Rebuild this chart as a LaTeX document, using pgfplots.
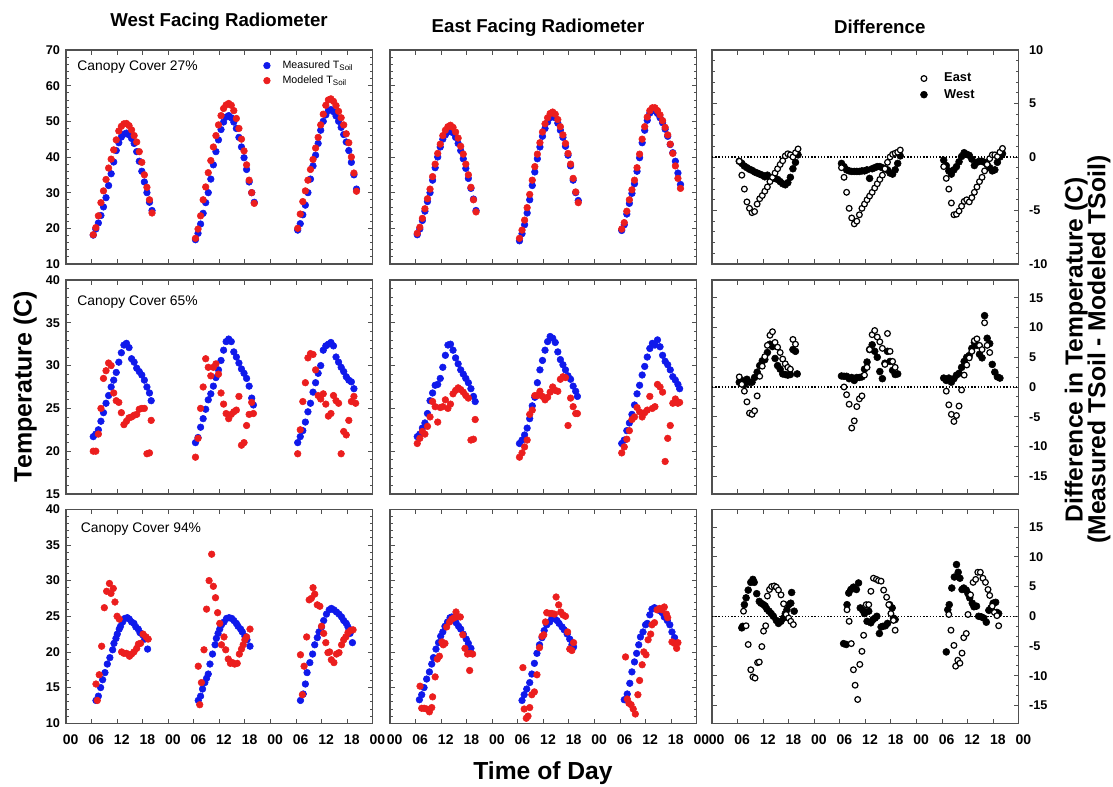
\documentclass[border=0pt]{standalone}
\usepackage{fontspec}
\setmainfont{Liberation Sans}
\usepackage{pgfplots}
\usepackage{pgfplotstable}
\pgfplotsset{compat=1.18}
\definecolor{mblue}{RGB}{15,25,235}
\definecolor{mred}{RGB}{235,30,30}
\definecolor{axgray}{RGB}{80,80,80}

\pgfplotstableread[row sep=\\]{
t wm wr em er de dw\\
6.4 18.1 18.2 18.2 18.6 -0.4 -0.4\\
7.0 19.8 20.2 19.8 20.3 -1.7 -0.6\\
7.6 21.5 23.5 22.2 22.8 -3.0 -0.85\\
8.2 23.6 27.2 24.8 25.5 -4.2 -1.0\\
8.8 26.0 30.5 27.5 28.3 -4.8 -1.15\\
9.4 28.6 33.7 30.0 31.0 -5.2 -1.25\\
10.0 32.0 36.9 33.5 34.5 -5.1 -1.4\\
10.6 35.3 39.4 37.0 38.0 -4.4 -1.5\\
11.2 38.6 42.0 40.0 41.0 -3.9 -1.6\\
11.8 41.8 44.8 42.8 43.6 -3.6 -1.7\\
12.4 44.0 47.3 45.0 46.0 -3.2 -1.85\\
13.0 45.6 48.6 46.2 47.5 -2.8 -1.7\\
13.6 46.4 49.3 47.0 48.5 -2.3 -1.9\\
14.2 46.7 49.4 47.3 48.9 -1.9 -2.0\\
14.8 46.2 48.8 46.8 48.3 -1.5 -2.0\\
15.4 45.2 47.6 45.5 47.0 -1.1 -2.1\\
16.0 43.8 46.0 43.8 45.3 -0.7 -2.3\\
16.6 41.5 44.2 41.8 43.0 -0.35 -2.5\\
17.2 38.8 41.5 39.5 40.8 0.1 -2.6\\
17.8 36.0 38.5 36.8 38.0 0.3 -2.4\\
18.4 33.0 35.0 34.0 35.0 0.2 -1.9\\
19.0 30.0 31.5 31.2 31.5 0.0 -1.1\\
19.6 27.3 28.0 28.2 28.0 0.4 -0.5\\
20.2 25.0 24.3 25.0 24.6 0.75 0.2\\
30.4 16.8 17.2 16.5 17.2 -1.0 -0.6\\
31.0 18.6 19.8 18.5 19.5 -1.9 -0.9\\
31.6 21.2 23.5 21.0 22.3 -3.3 -1.2\\
32.2 24.2 28.0 24.3 25.8 -4.8 -1.3\\
32.8 27.2 31.6 28.0 29.5 -5.7 -1.35\\
33.4 30.0 35.6 32.0 33.5 -6.25 -1.35\\
34.0 33.8 39.0 35.8 37.3 -6.0 -1.35\\
34.6 37.8 42.8 39.5 40.8 -5.4 -1.35\\
35.2 41.5 46.0 42.8 44.0 -4.8 -1.3\\
35.8 44.8 49.0 45.8 47.0 -4.4 -1.3\\
36.4 47.7 51.6 48.0 49.3 -4.0 -1.2\\
37.0 49.8 53.6 49.8 51.0 -3.65 -2.0\\
37.6 51.2 54.6 51.0 52.2 -3.3 -1.1\\
38.2 51.6 55.0 51.6 52.6 -2.9 -1.0\\
38.8 51.0 54.5 51.0 52.0 -2.5 -0.9\\
39.4 49.8 53.0 49.5 50.5 -2.1 -0.9\\
40.0 48.0 50.8 47.5 48.5 -1.7 -1.0\\
40.6 45.5 48.0 45.5 46.2 -1.1 -1.1\\
41.2 42.8 45.0 43.0 43.8 -0.5 -1.2\\
41.8 39.8 41.7 40.5 41.0 0.0 -1.5\\
42.4 36.5 37.8 37.5 38.0 0.25 -1.6\\
43.0 33.0 33.5 33.5 34.0 0.35 -1.2\\
43.6 30.0 30.0 30.0 30.2 0.45 -0.6\\
44.2 27.3 27.0 27.8 27.2 0.65 0.1\\
54.4 19.5 20.0 19.4 19.8 -0.9 -0.3\\
55.0 21.3 24.0 21.0 21.6 -2.0 -0.8\\
55.6 23.8 27.5 24.0 24.8 -3.0 -1.3\\
56.2 26.5 30.5 27.0 28.0 -4.3 -1.6\\
56.8 30.0 33.5 29.8 30.8 -5.4 -1.2\\
57.4 33.8 36.5 32.5 33.5 -5.35 -0.9\\
58.0 37.5 39.3 36.0 37.0 -5.05 -0.45\\
58.6 40.5 42.5 39.8 40.8 -4.6 0.05\\
59.2 43.8 45.5 44.0 45.0 -4.15 0.4\\
59.8 47.5 49.0 47.5 48.5 -4.0 0.25\\
60.4 50.0 52.0 50.3 51.2 -4.2 0.15\\
61.0 51.8 54.5 52.3 53.0 -3.8 -0.2\\
61.6 53.0 56.0 53.0 53.8 -3.3 -0.8\\
62.2 53.3 56.3 52.9 53.8 -2.8 -0.5\\
62.8 52.7 55.6 52.2 53.0 -2.3 -0.4\\
63.4 51.5 54.4 51.0 51.8 -1.9 -0.4\\
64.0 50.0 52.8 49.6 50.2 -1.3 -0.5\\
64.6 48.3 51.0 47.8 48.3 -0.7 -0.7\\
65.2 46.3 49.0 45.8 46.2 -0.15 -1.0\\
65.8 44.2 46.5 43.5 43.6 0.2 -1.3\\
66.4 41.8 44.0 41.2 41.0 0.2 -1.2\\
67.0 38.5 40.0 38.8 37.5 0.05 -0.5\\
67.6 35.0 35.5 35.5 34.0 0.45 0.0\\
68.2 31.0 30.4 32.3 31.2 0.8 0.3\\
}\rowA

\pgfplotstableread[row sep=\\]{
t wm wr em er de dw\\
6.4 21.7 20.0 21.7 20.9 1.7 0.8\\
7.0 22.0 20.0 22.0 21.5 0.45 1.1\\
7.6 22.5 22.0 22.7 22.3 -0.7 0.4\\
8.2 23.5 25.0 23.3 22.0 -2.5 1.3\\
8.8 24.5 28.5 24.4 22.9 -4.4 0.8\\
9.4 25.6 29.4 25.9 24.0 -4.6 0.8\\
10.0 26.5 30.3 26.8 25.8 -4.0 1.6\\
10.6 27.5 30.0 27.7 25.2 -1.5 2.5\\
11.2 28.3 26.8 27.8 23.4 1.8 3.6\\
11.8 29.2 25.9 28.5 25.1 3.5 4.4\\
12.4 30.4 25.7 29.8 25.2 5.1 4.6\\
13.0 31.5 24.5 31.2 26.0 7.0 5.8\\
13.6 32.4 23.1 32.4 25.0 8.7 7.2\\
14.2 32.6 23.5 32.5 25.5 9.3 6.8\\
14.8 32.1 23.9 31.8 26.7 7.5 4.8\\
15.4 30.8 24.0 30.9 27.1 6.7 3.6\\
16.0 30.4 24.2 30.2 27.4 5.8 3.0\\
16.6 29.7 24.3 29.5 27.2 4.7 2.2\\
17.2 29.3 24.9 29.0 26.9 3.9 2.1\\
17.8 28.9 25.0 28.5 26.5 3.3 2.0\\
18.4 28.3 25.0 28.0 26.2 3.0 2.1\\
19.0 27.5 19.7 27.3 21.3 8.0 6.3\\
19.6 26.8 19.8 26.4 21.4 7.2 6.0\\
20.0 25.9 23.6 25.8 23.7 nan 2.2\\
30.4 21.0 19.3 20.9 19.3 nan 1.85\\
31.0 21.6 21.5 21.3 19.8 0.0 1.8\\
31.6 22.8 25.0 21.9 20.5 -1.3 1.8\\
32.2 23.8 27.5 22.7 21.3 -2.9 1.4\\
32.8 24.9 30.8 23.8 24.3 -6.9 1.6\\
33.4 26.0 29.8 25.3 24.8 -5.7 1.1\\
34.0 26.7 28.8 26.3 26.5 -3.3 1.6\\
34.6 27.6 29.8 28.0 26.5 -2.0 1.6\\
35.2 28.6 30.2 29.5 27.0 -1.5 1.7\\
35.8 29.5 29.0 30.6 26.4 2.0 3.0\\
36.4 30.6 26.8 31.8 26.0 3.3 4.2\\
37.0 31.8 25.5 32.8 26.3 6.3 6.3\\
37.6 32.8 24.4 33.4 26.9 8.8 7.1\\
38.2 33.1 23.8 33.2 27.5 9.5 6.0\\
38.8 32.8 24.3 32.7 27.1 8.4 5.0\\
39.4 31.6 24.6 31.6 27.0 7.6 2.6\\
40.0 31.0 24.8 30.7 28.4 6.5 1.4\\
40.6 30.3 26.4 30.1 28.7 3.8 4.0\\
41.2 29.6 20.7 29.5 28.6 9.0 6.0\\
41.8 29.1 21.0 28.8 23.0 6.0 4.3\\
42.4 28.5 23.0 28.4 26.2 4.3 2.8\\
43.0 27.6 24.3 27.6 25.2 3.3 2.1\\
43.6 26.2 25.7 27.0 24.4 nan 2.2\\
44.0 25.4 24.4 26.4 24.4 nan nan\\
54.4 21.0 19.7 20.9 19.8 nan 1.5\\
55.0 21.7 22.5 21.3 20.5 -0.7 1.1\\
55.6 22.4 25.8 22.4 21.4 -3.0 1.5\\
56.2 23.4 28.0 23.3 22.4 -4.6 0.8\\
56.8 24.6 30.9 24.3 23.7 -5.8 1.4\\
57.4 25.6 31.4 25.4 24.0 -4.8 2.0\\
58.0 26.9 31.3 26.7 25.1 -3.2 2.3\\
58.6 28.0 29.5 27.7 24.6 -0.5 3.3\\
59.2 29.1 26.5 28.9 24.0 2.0 4.3\\
59.8 30.0 26.1 29.9 24.5 3.7 5.0\\
60.4 31.8 26.7 31.0 24.8 4.9 5.3\\
61.0 32.3 25.5 32.0 26.4 6.0 6.5\\
61.6 32.5 24.1 32.6 25.0 7.8 7.5\\
62.2 32.7 24.4 32.4 25.2 8.1 7.0\\
62.8 32.3 26.5 33.0 27.8 7.0 5.5\\
63.4 31.0 25.9 32.2 27.5 6.3 4.9\\
64.0 30.4 25.6 31.2 26.9 10.8 12.0\\
64.6 29.8 19.7 30.5 18.8 7.0 8.2\\
65.2 29.3 22.3 30.1 21.5 5.8 7.3\\
65.8 28.7 21.9 29.5 23.0 nan 3.8\\
66.4 28.3 23.6 28.7 25.6 nan 2.5\\
67.0 28.1 25.8 28.3 26.1 nan 1.7\\
67.6 27.3 26.4 27.8 25.6 nan 1.5\\
68.0 nan 25.6 27.3 25.7 nan nan\\
}\rowB

\pgfplotsset{
  panel/.style={
    scale only axis, width=230pt, height=160.5pt, anchor=south west,
    xmin=0, xmax=72, xtick={0,6,...,72},
    axis line style={axgray, line width=0.8pt},
    every tick/.style={axgray, line width=0.6pt},
    major tick length=3.5pt, minor tick length=2pt,
    /pgf/number format/assume math mode=true,
    yticklabel style={font=\bfseries\fontsize{9.5}{11}\selectfont, xshift=-1pt},
    clip=false,
  },
  nox/.style={xticklabel=\empty},
  bottomx/.style={xticklabels={00,06,12,18,00,06,12,18,00,06,12,18,00},
    xticklabel style={font=\bfseries\fontsize{10.5}{12}\selectfont, xshift=3.5pt, yshift=-5pt}},
  noy/.style={yticklabel=\empty},
  righty/.style={yticklabel pos=right, yticklabel style={font=\bfseries\fontsize{9.5}{11}\selectfont, xshift=5.3pt}},
  bluem/.style={only marks, mark=*, mark size=2.5pt, color=mblue},
  redm/.style={only marks, mark=*, mark size=2.5pt, color=mred},
  fillm/.style={only marks, mark=*, mark size=2.6pt, color=black},
  openm/.style={only marks, mark=*, mark size=2.15pt, color=black, mark options={fill=white, draw=black, line width=0.9pt}},
  zeroline/.style={black, line width=0.9pt, dash pattern=on 1.1pt off 1.3pt, forget plot},
}
\tikzset{canopy/.style={anchor=west, font=\fontsize{10.4}{12}\selectfont}}

\begin{document}
\begin{tikzpicture}
\useasboundingbox (0,0) rectangle (834.75pt,590.25pt);

% ===== Row 1 =====
\begin{axis}[panel, nox, at={(49.5pt,392.25pt)}, ymin=10, ymax=70, ytick={10,20,...,70}, minor y tick num=4,
  legend image code/.code={\draw[#1] plot coordinates {(0pt,0pt)}; \path (-4pt,0pt) (9.5pt,0pt);},
  legend style={draw=none, fill=none, at={(0.623,0.976)}, anchor=north west, font=\fontsize{8}{9}\selectfont, row sep=0pt},
  legend cell align=left]
\addplot[bluem] table[x=t,y=wm]{\rowA}; \addlegendentry{Measured T\textsubscript{Soil}}
\addplot[redm] table[x=t,y=wr]{\rowA}; \addlegendentry{Modeled T\textsubscript{Soil}}
\node[canopy] at (rel axis cs:0.022,0.921) {Canopy Cover 27\%};
\end{axis}
\begin{axis}[panel, nox, noy, at={(292.5pt,392.25pt)}, ymin=10, ymax=70, ytick={10,20,...,70}, minor y tick num=4]
\addplot[bluem] table[x=t,y=em]{\rowA};
\addplot[redm] table[x=t,y=er]{\rowA};
\end{axis}
\begin{axis}[panel, nox, righty, at={(534pt,392.25pt)}, ymin=-10, ymax=10, ytick={-10,-5,...,10}, minor y tick num=4,
  legend image code/.code={\draw[#1] plot coordinates {(0pt,0pt)}; \path (-4pt,0pt) (13pt,0pt);},
  legend style={draw=none, fill=none, at={(0.659,0.918)}, anchor=north west, font=\bfseries\fontsize{9.6}{11}\selectfont, row sep=0pt},
  legend cell align=left, reverse legend]
\addplot[zeroline] coordinates {(0,0) (72,0)};
\addplot[fillm] table[x=t,y=dw]{\rowA}; \addlegendentry{West}
\addplot[openm] table[x=t,y=de]{\rowA}; \addlegendentry{East}
\end{axis}

% ===== Row 2 =====
\begin{axis}[panel, nox, at={(49.5pt,219.75pt)}, ymin=15, ymax=40, ytick={15,20,...,40}, minor y tick num=4]
\addplot[bluem] table[x=t,y=wm]{\rowB};
\addplot[redm] table[x=t,y=wr]{\rowB};
\node[canopy] at (rel axis cs:0.022,0.896) {Canopy Cover 65\%};
\end{axis}
\begin{axis}[panel, nox, noy, at={(292.5pt,219.75pt)}, ymin=15, ymax=40, ytick={15,20,...,40}, minor y tick num=4]
\addplot[bluem] table[x=t,y=em]{\rowB};
\addplot[redm] table[x=t,y=er]{\rowB};
\end{axis}
\begin{axis}[panel, nox, righty, at={(534pt,219.75pt)}, ymin=-18, ymax=18, ytick={-15,-10,...,15}, minor y tick num=2]
\addplot[zeroline] coordinates {(0,0) (72,0)};
\addplot[fillm] table[x=t,y=dw]{\rowB};
\addplot[openm] table[x=t,y=de]{\rowB};
\end{axis}

% ===== Row 3 =====
\begin{axis}[panel, bottomx, at={(49.5pt,47.8pt)}, ymin=10, ymax=40, ytick={10,15,...,40}, minor y tick num=4]
\addplot[bluem] coordinates {
(7.04,13.2)(7.6,13.8)(8.13,15.0)(8.6,16.1)(9.15,17.1)(9.7,18.3)(10.3,19.2)(10.95,20.3)(11.26,21.2)(11.73,21.9)(12.04,22.5)(12.5,23.2)(12.8,23.6)(13.3,24.2)(13.84,24.7)(14.4,24.8)(14.86,24.6)(15.4,24.2)(15.95,24.0)(16.4,23.5)(16.97,23.2)(17.36,22.7)(17.99,22.4)(18.5,21.8)(19.16,20.4)
(31.05,13.2)(31.6,13.8)(32.06,14.8)(32.6,15.7)(33.0,16.3)(33.4,16.9)(33.8,18.3)(34.4,19.7)(35.0,21.0)(35.3,21.9)(35.7,22.6)(36.1,23.2)(36.5,23.8)(37.1,24.2)(37.7,24.7)(38.3,24.8)(38.9,24.7)(39.4,24.4)(40.0,24.0)(40.4,23.6)(41.0,23.2)(41.4,22.8)(42.0,22.2)(42.5,21.7)(43.2,20.8)
(55.05,13.2)(55.7,14.1)(56.2,15.5)(56.6,17.1)(57.25,18.5)(57.9,19.7)(58.4,21.0)(59.0,22.0)(59.4,22.8)(60.0,23.5)(60.5,24.4)(61.15,25.3)(61.8,25.9)(62.3,26.1)(62.9,25.9)(63.5,25.6)(64.1,25.3)(64.7,24.9)(65.2,24.4)(65.8,24.0)(66.2,23.5)(66.7,22.6)(67.25,21.3)
};
\addplot[redm] coordinates {
(7.04,15.5)(7.35,13.2)(7.8,16.8)(8.37,20.8)(9.0,26.2)(9.54,28.5)(10.2,29.6)(10.56,28.2)(11.1,28.9)(11.5,27.0)(12.0,25.0)(12.5,24.6)(13.06,20.0)(13.6,19.8)(14.2,19.8)(14.9,19.4)(15.4,19.7)(15.95,20.0)(16.6,20.5)(17.0,21.1)(17.5,21.2)(18.1,22.5)(18.8,22.1)(19.3,21.8)
(31.05,18.0)(31.4,12.6)(31.8,15.7)(32.4,20.3)(33.0,26.0)(33.6,30.0)(34.2,33.7)(34.6,29.2)(35.1,27.6)(35.6,25.5)(36.1,24.0)(36.5,21.0)(37.1,22.1)(37.5,20.3)(38.1,19.0)(38.6,18.4)(39.1,18.5)(39.6,18.3)(40.2,18.4)(40.7,19.7)(41.2,20.4)(41.6,21.0)(42.0,21.7)(42.4,22.1)(43.2,23.2)
(55.05,19.6)(55.5,14.0)(55.9,18.0)(56.5,22.1)(57.1,27.3)(57.6,27.5)(58.0,29.0)(58.4,28.1)(59.0,26.6)(59.6,26.4)(60.0,23.6)(60.5,22.6)(61.0,21.3)(61.5,19.9)(61.9,20.0)(62.3,18.9)(62.9,18.5)(63.5,19.7)(64.1,19.9)(64.7,21.0)(65.2,21.7)(65.7,22.1)(66.2,22.7)(66.8,23.0)(67.4,23.1)
};
\node[canopy] at (rel axis cs:0.033,0.907) {Canopy Cover 94\%};
\end{axis}
\begin{axis}[panel, bottomx, noy, at={(292.5pt,47.8pt)}, ymin=10, ymax=40, ytick={10,15,...,40}, minor y tick num=4]
\addplot[bluem] coordinates {
(6.9,13.3)(7.45,14.0)(8.0,15.0)(8.6,16.2)(9.25,17.2)(9.8,18.3)(10.2,19.2)(10.8,20.4)(11.4,21.3)(11.9,22.2)(12.4,22.8)(12.9,23.6)(13.5,24.2)(14.1,24.8)(14.5,24.9)(15.1,24.6)(15.5,24.1)(16.1,23.6)(16.6,23.2)(17.2,22.5)(17.9,21.8)(18.4,21.2)(19.0,20.5)
(31.0,13.2)(31.5,14.0)(32.1,14.8)(32.8,15.7)(33.3,16.9)(33.9,18.4)(34.5,19.8)(35.1,21.0)(35.7,22.0)(36.2,23.0)(36.8,23.8)(37.5,24.2)(38.0,24.7)(38.6,24.7)(39.2,24.4)(39.7,24.0)(40.4,23.5)(40.9,23.1)(41.6,22.5)(42.2,21.8)(42.7,21.0)(43.1,20.7)
(55.0,13.3)(55.7,14.1)(56.3,15.6)(56.8,17.2)(57.4,18.6)(57.9,19.8)(58.4,21.0)(58.8,22.1)(59.4,22.8)(60.0,23.8)(60.4,24.0)(61.0,25.2)(61.5,26.0)(62.1,26.2)(62.7,26.0)(63.3,25.8)(63.9,25.5)(64.4,24.9)(65.1,24.4)(65.7,23.8)(66.2,22.8)(66.8,22.0)
};
\addplot[redm] coordinates {
(7.05,15.2)(7.45,12.1)(8.0,12.1)(8.6,12.0)(9.25,11.6)(9.8,12.2)(10.0,13.7)(10.6,16.5)(11.1,19.0)(11.6,19.4)(12.2,21.4)(12.5,21.0)(12.9,21.2)(13.3,23.5)(14.0,24.2)(14.5,24.6)(15.1,24.8)(15.5,25.6)(15.8,25.0)(16.5,24.9)(17.1,22.4)(17.6,20.5)(18.2,19.7)(18.7,17.4)(18.8,19.8)(19.4,19.7)
(31.2,17.8)(31.5,12.0)(32.0,10.7)(32.4,11.0)(32.8,12.2)(33.3,14.0)(33.9,14.4)(34.5,16.8)(35.1,20.6)(35.7,22.2)(36.1,22.4)(36.5,24.2)(36.8,25.5)(37.5,25.4)(38.0,25.4)(38.6,25.3)(39.0,27.7)(39.6,26.6)(40.1,25.6)(40.6,25.2)(41.2,25.0)(41.7,22.8)(42.2,20.4)(42.7,20.2)(43.1,21.3)
(55.3,19.3)(55.7,13.4)(56.1,12.8)(56.6,12.6)(57.1,12.0)(57.6,11.3)(58.2,14.0)(58.6,16.0)(59.2,18.2)(59.6,20.0)(60.1,19.6)(60.6,21.7)(61.2,22.5)(61.5,23.8)(62.1,24.1)(62.7,25.9)(63.3,26.1)(63.9,25.9)(64.4,26.3)(64.9,25.3)(65.2,24.8)(66.2,21.4)(66.8,21.2)(67.3,20.5)(67.6,21.3)
};
\end{axis}
\begin{axis}[panel, bottomx, righty, at={(534pt,47.8pt)}, ymin=-18, ymax=18, ytick={-15,-10,...,15}, minor y tick num=2]
\addplot[zeroline] coordinates {(0,0) (72,0)};
\addplot[fillm] coordinates {
(7.0,-1.95)(7.2,-1.7)(7.6,1.95)(8.0,3.1)(8.5,4.4)(9.1,5.7)(9.6,6.2)(9.9,5.7)(10.5,3.8)(11.1,2.5)(11.5,2.2)(12.1,1.95)(12.5,1.7)(12.9,1.2)(13.4,0.85)(13.9,0.45)(14.4,0.0)(15.1,-0.7)(15.6,-1.2)(16.2,-0.85)(16.8,-0.3)(17.2,0.45)(17.6,1.1)(18.0,1.95)(18.5,2.2)(18.7,4.0)(19.3,0.85)
(30.9,-4.6)(31.5,-4.75)(31.7,1.95)(32.1,3.9)(32.6,4.5)(33.2,4.9)(33.9,4.5)(34.4,5.6)(34.8,1.4)(35.4,1.0)(35.8,0.45)(36.4,-0.85)(36.8,0.85)(37.3,-1.1)(37.8,-0.55)(38.3,-0.3)(38.7,0.0)(39.3,-2.9)(39.7,-1.8)(40.1,-1.7)(40.7,-1.6)(41.2,-1.2)(41.7,1.95)(42.3,1.4)(42.6,-0.3)(43.0,-0.55)
(55.0,-6.0)(55.35,1.1)(55.7,1.95)(56.3,4.75)(56.9,6.6)(57.4,8.7)(57.8,7.4)(58.2,6.4)(58.7,4.5)(59.1,4.75)(59.7,4.4)(60.1,3.8)(60.5,3.1)(61.1,2.2)(61.5,1.6)(62.1,1.7)(62.6,0.0)(63.2,-0.1)(63.8,-0.3)(64.4,-1.0)(65.0,1.0)(65.5,1.4)(66.0,2.2)(66.6,2.35)(66.9,0.65)(67.3,0.45)
};
\addplot[openm] coordinates {
(7.4,0.85)(8.0,-1.6)(8.5,-4.75)(9.1,-9.0)(9.6,-10.2)(10.1,-10.4)(10.7,-7.8)(11.1,-7.7)(11.7,-5.1)(12.1,-2.5)(12.6,-1.6)(13.0,3.4)(13.5,4.5)(14.0,5.0)(14.6,5.1)(15.1,4.9)(15.6,4.4)(16.2,3.6)(16.8,2.1)(17.4,0.3)(18.0,-0.3)(18.5,-0.85)(19.1,-1.4)
(31.7,1.1)(32.2,-0.85)(32.7,-4.6)(33.2,-9.0)(33.6,-11.6)(34.2,-14.0)(34.7,-8.1)(35.2,-5.9)(35.6,-3.2)(36.2,1.95)(36.8,1.95)(37.3,4.2)(37.9,6.4)(38.6,6.2)(39.1,6.0)(39.7,5.9)(40.3,4.4)(41.0,3.2)(41.5,1.95)(42.0,0.45)(42.6,-0.7)(43.0,-2.35)
(55.6,0.3)(56.1,-2.35)(56.8,-4.9)(57.2,-8.4)(57.7,-7.4)(58.2,-7.9)(58.7,-6.2)(59.1,-3.6)(59.7,-2.9)(60.1,0.3)(60.7,3.6)(61.3,5.7)(61.9,6.2)(62.4,7.4)(63.0,7.4)(63.6,6.4)(64.2,5.7)(64.8,4.5)(65.2,3.5)(65.8,1.7)(66.3,0.65)(66.9,0.1)(67.3,-1.6)
};
\end{axis}

% ===== Titles and labels =====
\node[anchor=base, font=\bfseries\fontsize{14}{16}\selectfont] at (164.25pt,570.2pt) {West Facing Radiometer};
\node[anchor=base, font=\bfseries\fontsize{14}{16}\selectfont] at (403.5pt,566.0pt) {East Facing Radiometer};
\node[anchor=base, font=\bfseries\fontsize{14}{16}\selectfont] at (659.8pt,565.3pt) {Difference};
\node[anchor=base, rotate=90, font=\bfseries\fontsize{18.75}{21}\selectfont] at (23.8pt,300.4pt) {Temperature (C)};
\node[anchor=base, font=\bfseries\fontsize{18.5}{21}\selectfont] at (407.25pt,5.8pt) {Time of Day};
\node[anchor=base, rotate=90, font=\bfseries\fontsize{18.5}{21}\selectfont] at (812pt,328pt) {Difference in Temperature (C)};
\node[anchor=base, rotate=90, font=\bfseries\fontsize{18.5}{21}\selectfont] at (829pt,328pt) {(Measured TSoil - Modeled TSoil)};
\end{tikzpicture}
\end{document}
